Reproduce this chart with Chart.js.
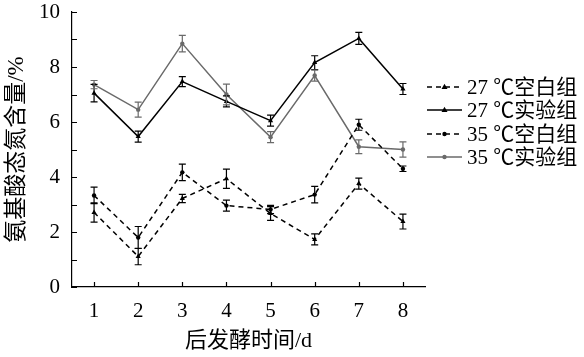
<!DOCTYPE html>
<html><head><meta charset="utf-8">
<script src="https://cdn.jsdelivr.net/npm/chart.js@4.4.1/dist/chart.umd.min.js"></script>
<style>html,body{margin:0;padding:0;background:#fff}#wrap{width:584px;height:357px}</style>
</head><body><div id="wrap"><canvas id="c" width="584" height="357"></canvas></div>
<script>
// ---- data ----
const days = [1, 2, 3, 4, 5, 6, 7, 8];
const seriesLabels = ['27 ℃空白组', '27 ℃实验组', '35 ℃空白组', '35 ℃实验组'];
const blank27 = [2.71, 1.11, 3.22, 3.94, 2.67, 1.73, 3.76, 2.38];
const blank27Err = [0.35, 0.30, 0.15, 0.35, 0.25, 0.20, 0.20, 0.27];
const exp27 = [7.05, 5.47, 7.47, 6.75, 6.05, 8.16, 9.04, 7.20];
const exp27Err = [0.32, 0.20, 0.18, 0.20, 0.20, 0.25, 0.22, 0.20];
const blank35 = [3.33, 1.80, 4.17, 2.96, 2.82, 3.36, 5.90, 4.30];
const blank35Err = [0.30, 0.40, 0.30, 0.20, 0.15, 0.30, 0.20, 0.10];
const exp35 = [7.36, 6.45, 8.85, 7.00, 5.45, 7.69, 5.10, 5.00];
const exp35Err = [0.15, 0.27, 0.30, 0.38, 0.20, 0.20, 0.25, 0.28];
const yTickValues = [0, 2, 4, 6, 8, 10];
const yMinorTicks = [0, 1, 2, 3, 4, 5, 6, 7, 8, 9, 10];
const xTitle = '后发酵时间/d';
const yTitle = '氨基酸态氮含量/%';

const FONT = '"Liberation Serif","Times New Roman","Noto Sans CJK SC",serif';
const BLACK = '#000000', GRAY = '#6a6a6a';

function pts(vals) { return days.map((d, i) => ({x: d, y: vals[i]})); }

const datasets = [
  {label: seriesLabels[0], data: pts(blank27), err: blank27Err, borderColor: BLACK, backgroundColor: BLACK, borderDash: [5, 4], pointStyle: 'triangle', pointRadius: 3},
  {label: seriesLabels[1], data: pts(exp27), err: exp27Err, borderColor: BLACK, backgroundColor: BLACK, borderDash: [], pointStyle: 'triangle', pointRadius: 3},
  {label: seriesLabels[2], data: pts(blank35), err: blank35Err, borderColor: BLACK, backgroundColor: BLACK, borderDash: [5, 4], pointStyle: 'circle', pointRadius: 2.2},
  {label: seriesLabels[3], data: pts(exp35), err: exp35Err, borderColor: GRAY, backgroundColor: GRAY, borderDash: [], pointStyle: 'circle', pointRadius: 2.2}
];
datasets.forEach(d => { d.borderWidth = 1.5; d.pointBorderWidth = 0; d.tension = 0; d.fill = false; });

function marker(ctx, style, x, y, r, color) {
  ctx.save();
  ctx.fillStyle = color;
  ctx.beginPath();
  if (style === 'triangle') {
    ctx.moveTo(x, y - r * 1.1);
    ctx.lineTo(x + r, y + r * 0.7);
    ctx.lineTo(x - r, y + r * 0.7);
    ctx.closePath();
  } else {
    ctx.arc(x, y, r, 0, Math.PI * 2);
  }
  ctx.fill();
  ctx.restore();
}

const decor = {
  id: 'decor',
  afterDatasetsDraw(chart) {
    const {ctx, scales: {x, y}} = chart;
    chart.data.datasets.forEach(ds => {
      ctx.save();
      ctx.strokeStyle = ds.borderColor;
      ctx.lineWidth = 1.2;
      ds.data.forEach((p, i) => {
        const px = x.getPixelForValue(p.x);
        const top = y.getPixelForValue(p.y + ds.err[i]);
        const bot = y.getPixelForValue(p.y - ds.err[i]);
        ctx.beginPath();
        ctx.moveTo(px, top); ctx.lineTo(px, bot);
        ctx.moveTo(px - 3.5, top); ctx.lineTo(px + 3.5, top);
        ctx.moveTo(px - 3.5, bot); ctx.lineTo(px + 3.5, bot);
        ctx.stroke();
      });
      ctx.restore();
    });
    ctx.save();
    ctx.strokeStyle = BLACK;
    ctx.lineWidth = 1.2;
    ctx.beginPath();
    yMinorTicks.forEach(v => {
      const py = Math.round(y.getPixelForValue(v)) + 0.5;
      ctx.moveTo(x.left, py); ctx.lineTo(x.left + 5, py);
    });
    days.forEach(v => {
      const px = Math.round(x.getPixelForValue(v)) + 0.5;
      ctx.moveTo(px, y.bottom); ctx.lineTo(px, y.bottom - 5);
    });
    ctx.stroke();
    ctx.restore();
  },
  afterDraw(chart) {
    const {ctx} = chart;
    const rows = [87, 110, 134, 157];
    const x0 = 427, x1 = 462, tx = 467;
    chart.data.datasets.forEach((ds, i) => {
      const yy = rows[i];
      ctx.save();
      ctx.strokeStyle = ds.borderColor;
      ctx.lineWidth = 1.5;
      ctx.setLineDash(ds.borderDash);
      ctx.beginPath();
      ctx.moveTo(x0, yy); ctx.lineTo(x1, yy);
      ctx.stroke();
      ctx.restore();
      marker(ctx, ds.pointStyle, (x0 + x1) / 2, yy, ds.pointRadius, ds.borderColor);
      ctx.save();
      ctx.fillStyle = BLACK;
      ctx.font = '21px ' + FONT;
      ctx.textBaseline = 'middle';
      ctx.textAlign = 'left';
      ctx.fillText(ds.label, tx, yy + 1);
      ctx.restore();
    });
  }
};

new Chart(document.getElementById('c'), {
  type: 'line',
  data: {datasets},
  options: {
    responsive: false,
    animation: false,
    devicePixelRatio: 1,
    layout: {padding: {left: 0, right: 159, top: 12, bottom: 0}},
    plugins: {legend: {display: false}, tooltip: {enabled: false}},
    scales: {
      x: {
        type: 'linear', min: 0.5, max: 8.5,
        afterBuildTicks: s => { s.ticks = days.map(v => ({value: v})); },
        afterFit: s => { s.height = 70; s.paddingLeft = 0; s.paddingRight = 0; },
        grid: {display: false, drawTicks: false},
        border: {display: true, color: BLACK, width: 1.2},
        ticks: {color: BLACK, font: {family: FONT, size: 21}, padding: 12, maxRotation: 0, autoSkip: false},
        title: {display: true, text: xTitle, color: BLACK, font: {family: FONT, size: 22}, padding: {top: 0, bottom: 3}}
      },
      y: {
        type: 'linear', min: 0, max: 10,
        afterBuildTicks: s => { s.ticks = yTickValues.map(v => ({value: v})); },
        afterFit: s => { s.width = 72; s.paddingTop = 0; s.paddingBottom = 0; },
        grid: {display: false, drawTicks: false},
        border: {display: true, color: BLACK, width: 1.2},
        ticks: {color: BLACK, font: {family: FONT, size: 21}, padding: 12},
        title: {display: true, text: yTitle, color: BLACK, font: {family: FONT, size: 23}, padding: {top: 3, bottom: 0}}
      }
    }
  },
  plugins: [decor]
});
</script></body></html>
